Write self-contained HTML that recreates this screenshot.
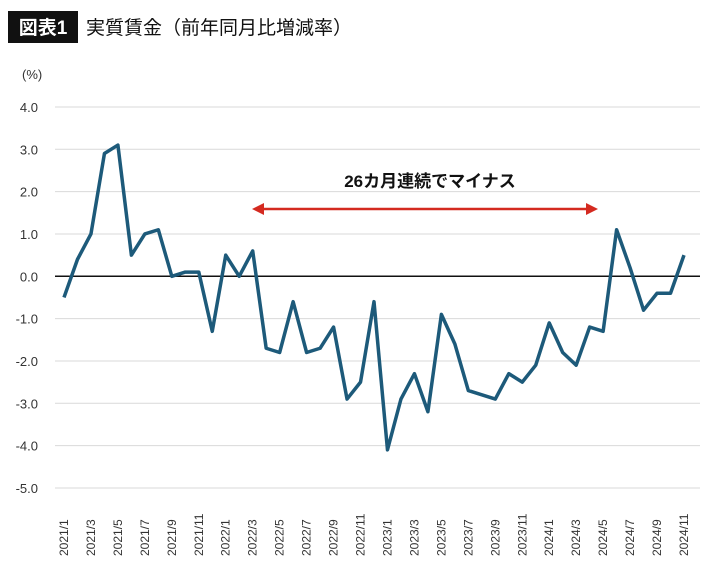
<!DOCTYPE html>
<html><head><meta charset="utf-8">
<style>
body{margin:0;background:#fff;width:710px;height:566px;overflow:hidden;font-family:"Liberation Sans","Noto Sans CJK JP",sans-serif;}
</style></head>
<body>
<svg width="710" height="566">
<rect x="8" y="11" width="70" height="32" fill="#111"/>
<text x="43" y="34" fill="#fff" font-size="19" font-weight="bold" text-anchor="middle" font-family="Liberation Sans,Noto Sans CJK JP,sans-serif">図表1</text>
<text x="86" y="34" fill="#111" font-size="19" font-family="Liberation Sans,Noto Sans CJK JP,sans-serif">実質賃金（前年同月比増減率）</text>
<text x="22" y="79" font-size="13" fill="#333">(%)</text>
<g id="grid"></g><g id="ylab"></g><g id="xlab"></g><g id="series"></g>
<text x="430" y="187" font-size="17" font-weight="bold" text-anchor="middle" fill="#111" font-family="Liberation Sans,Noto Sans CJK JP,sans-serif">26カ月連続でマイナス</text>
<g>
<line x1="262" y1="209" x2="589" y2="209" stroke="#d42a20" stroke-width="2.5"/>
<polygon points="252,209 264,203 264,215" fill="#d42a20"/>
<polygon points="598,209 586,203 586,215" fill="#d42a20"/>
</g>
</svg>
<script>
const values=[-0.5,0.4,1.0,2.9,3.1,0.5,1.0,1.1,0.0,0.1,0.1,-1.3,0.5,0.0,0.6,-1.7,-1.8,-0.6,-1.8,-1.7,-1.2,-2.9,-2.5,-0.6,-4.1,-2.9,-2.3,-3.2,-0.9,-1.6,-2.7,-2.8,-2.9,-2.3,-2.5,-2.1,-1.1,-1.8,-2.1,-1.2,-1.3,1.1,0.2,-0.8,-0.4,-0.4,0.5];
const categories=[];
for(let y=2021;y<=2024;y++)for(let m=1;m<=12;m++){if(y==2024&&m>11)break;categories.push(y+"/"+m);}
const yTicks=[4,3,2,1,0,-1,-2,-3,-4,-5];
const yTickLabels=["4.0","3.0","2.0","1.0","0.0","-1.0","-2.0","-3.0","-4.0","-5.0"];
const NS="http://www.w3.org/2000/svg";
function X(i){return 64+i*(684-64)/(categories.length-1);}
function Y(v){return 276.3-v*42.33;}
function mk(t,a,p){const e=document.createElementNS(NS,t);for(const k in a)e.setAttribute(k,a[k]);p.appendChild(e);return e;}
const grid=document.getElementById('grid'),ylab=document.getElementById('ylab'),xlab=document.getElementById('xlab'),ser=document.getElementById('series');
yTicks.forEach((v,i)=>{
 const l=mk('line',{x1:55,x2:700,y1:Y(v),y2:Y(v),stroke:v===0?'#111':'#d9d9d9','stroke-width':v===0?1.5:1},grid);
 
 
 const t=mk('text',{x:38,y:Y(v)+5,'text-anchor':'end','font-size':13,fill:'#333'},ylab);
 t.textContent=yTickLabels[i];
 
 
});
categories.forEach((c,i)=>{
 if(i%2)return;
 const x=X(i)+4;
 const t=mk('text',{x:x,y:556,'font-size':12,fill:'#333',transform:`rotate(-90 ${x} 556)`},xlab);
 t.textContent=c;
 
 
});
const p=mk('polyline',{points:values.map((v,i)=>X(i)+','+Y(v)).join(' '),fill:'none',stroke:'#1d5a7a','stroke-width':3.5,'stroke-linejoin':'round'},ser);


</script>
</body></html>
